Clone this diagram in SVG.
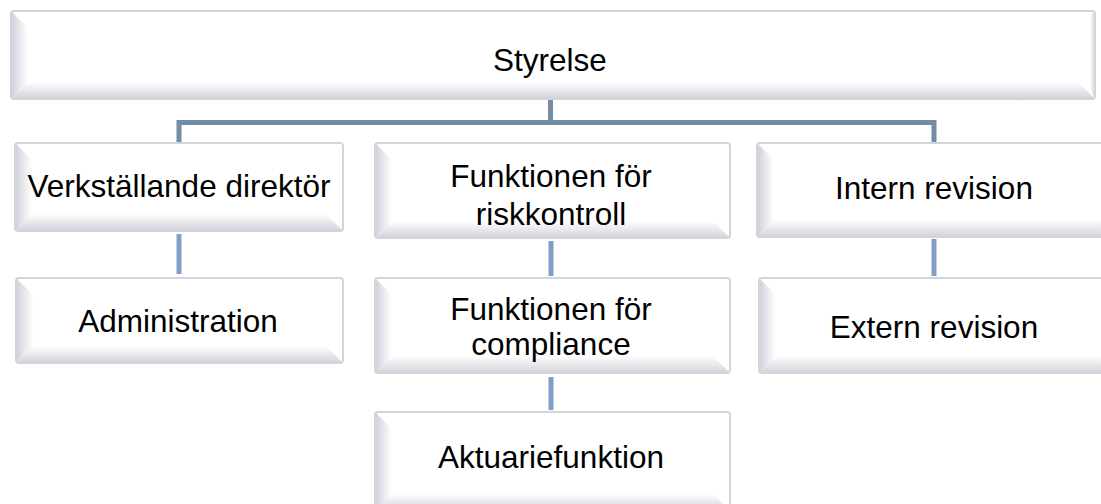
<svg xmlns="http://www.w3.org/2000/svg" width="1101" height="504" viewBox="0 0 1101 504">
  <defs>
    <linearGradient id="gl" x1="0" y1="0" x2="1" y2="0">
      <stop offset="0" stop-color="#d2d2dd"/>
      <stop offset="1" stop-color="#ffffff"/>
    </linearGradient>
    <linearGradient id="gb" x1="0" y1="0" x2="0" y2="1">
      <stop offset="0" stop-color="#ffffff"/>
      <stop offset="1" stop-color="#d4d4dd"/>
    </linearGradient>
    <linearGradient id="gr" x1="0" y1="0" x2="1" y2="0">
      <stop offset="0" stop-color="#ffffff"/>
      <stop offset="1" stop-color="#dcdce3"/>
    </linearGradient>
  </defs>
  <style>
    .face { fill: #ffffff; stroke: #d3d3d8; stroke-width: 2; }
    .bl { fill: url(#gl); }
    .bb { fill: url(#gb); }
    .br { fill: url(#gr); }
    .lbl { font-family: "Liberation Sans", Arial, sans-serif; font-size: 31.5px; fill: #000000; text-anchor: middle; }
    .c1 { stroke: #758ca6; stroke-width: 5; fill: none; }
    .c2 { stroke: #809fc6; stroke-width: 5; fill: none; }
  </style>
  <rect width="1101" height="504" fill="#ffffff"/>

  <g id="connectors">
    <path class="c1" d="M550.5 99 V122.5 M179 143 V122.5 H934 V143"/>
    <path class="c2" d="M179 234 V274"/>
    <path class="c2" d="M551 241 V276"/>
    <path class="c2" d="M934 239 V276"/>
    <path class="c2" d="M551 377 V410"/>
  </g>

  <g id="node-styrelse">
    <rect class="face" x="11" y="11" width="1084" height="88" rx="3"/>
    <polygon class="bl" points="12,12 28,28 28,82 12,98"/>
    <polygon class="bb" points="12,98 28,82 1078,82 1094,98"/>
    <polygon class="br" points="1094,12 1090,16 1090,86 1094,98"/>
    <text class="lbl" x="550" y="71">Styrelse</text>
  </g>

  <g id="node-vd">
    <rect class="face" x="15" y="143" width="328" height="88" rx="3"/>
    <polygon class="bl" points="16,144 32,160 32,214 16,230"/>
    <polygon class="bb" points="16,230 32,214 326,214 342,230"/>
    <text class="lbl" x="179" y="197">Verkställande direktör</text>
  </g>

  <g id="node-risk">
    <rect class="face" x="375" y="143" width="355" height="95" rx="3"/>
    <polygon class="bl" points="376,144 392,160 392,221 376,237"/>
    <polygon class="bb" points="376,237 392,221 713,221 729,237"/>
    <text class="lbl" x="551" y="187">Funktionen för</text>
    <text class="lbl" x="551" y="225">riskkontroll</text>
  </g>

  <g id="node-intern">
    <rect class="face" x="757" y="143" width="352" height="94" rx="3"/>
    <polygon class="bl" points="758,144 774,160 774,220 758,236"/>
    <polygon class="bb" points="758,236 774,220 1101,220 1101,236"/>
    <text class="lbl" x="934" y="199">Intern revision</text>
  </g>

  <g id="node-admin">
    <rect class="face" x="16" y="278" width="327" height="85" rx="3"/>
    <polygon class="bl" points="17,279 33,295 33,346 17,362"/>
    <polygon class="bb" points="17,362 33,346 326,346 342,362"/>
    <text class="lbl" x="178" y="332">Administration</text>
  </g>

  <g id="node-compliance">
    <rect class="face" x="375" y="278" width="355" height="95" rx="3"/>
    <polygon class="bl" points="376,279 392,295 392,356 376,372"/>
    <polygon class="bb" points="376,372 392,356 713,356 729,372"/>
    <text class="lbl" x="551" y="320">Funktionen för</text>
    <text class="lbl" x="551" y="355">compliance</text>
  </g>

  <g id="node-extern">
    <rect class="face" x="759" y="278" width="350" height="95" rx="3"/>
    <polygon class="bl" points="760,279 776,295 776,356 760,372"/>
    <polygon class="bb" points="760,372 776,356 1101,356 1101,372"/>
    <text class="lbl" x="934" y="338">Extern revision</text>
  </g>

  <g id="node-aktuarie">
    <rect class="face" x="375" y="412" width="355" height="100" rx="3"/>
    <polygon class="bl" points="376,413 392,429 392,504 376,504"/>
    <polygon class="bb" points="392,494 713,494 729,510 376,510"/>
    <text class="lbl" x="551" y="468">Aktuariefunktion</text>
  </g>
</svg>
